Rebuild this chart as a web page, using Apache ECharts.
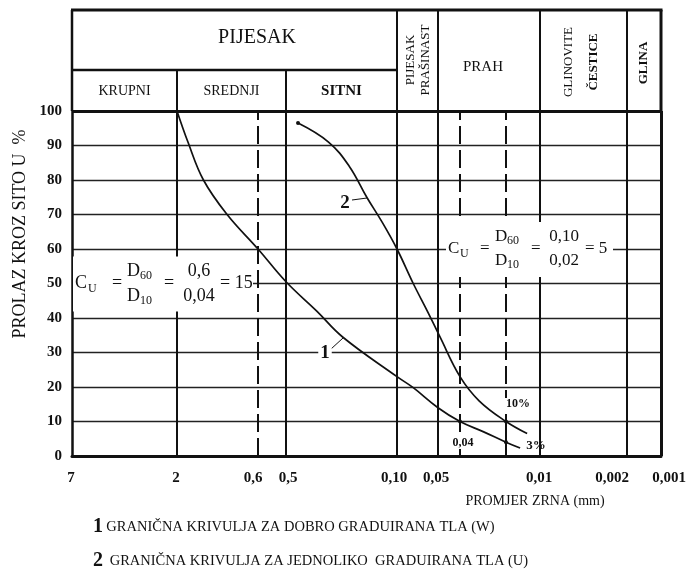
<!DOCTYPE html>
<html>
<head>
<meta charset="utf-8">
<script src="https://cdn.jsdelivr.net/npm/echarts@6/dist/echarts.min.js"></script>
<style>
html,body{margin:0;padding:0;background:#fff;}
#chart{width:691px;height:573px;}
</style>
</head>
<body>
<div id="chart"></div>
<script>
// =========================
// DATA
// =========================

// x scale of the chart: grain size (mm) -> position along the axis
const scaleSizes = [7, 2, 0.6, 0.5, 0.10, 0.05, 0.04, 0.02, 0.01, 0.002, 0.001];
const scalePos   = [0, 105, 186, 214, 325, 366, 388, 434, 468, 555, 602];

// tick labels under the x axis
const xTickLabels   = ["7", "2", "0,6", "0,5", "0,10", "0,05", "0,01", "0,002", "0,001"];
const xTickLabelPos = [-1, 104, 181, 216, 322, 364, 467, 540, 597];

// vertical lines
const solidSizes  = [2, 0.5, 0.10, 0.05, 0.01, 0.002];
const dashedSizes = [0.6, 0.04, 0.02];

// curve 1 (W)
const curve1Size = [2, 1.7, 1.35, 0.95, 0.6, 0.5, 0.32, 0.22, 0.10, 0.076, 0.05, 0.04, 0.028, 0.02, 0.015];
const curve1Pass = [100, 91, 80, 70, 60, 50.5, 42, 34.5, 23, 19.8, 14, 10, 7, 4, 2.3];

// curve 2 (U)
const curve2Size = [0.42, 0.27, 0.20, 0.155, 0.123, 0.10, 0.076, 0.059, 0.049, 0.04, 0.03, 0.02, 0.013];
const curve2Pass = [96.5, 91, 84, 75, 67.5, 60, 50, 41.5, 34.5, 23, 16, 10, 6.5];

const dots1 = [0.04, 0.02];
const dots2 = [0.42, 0.02];

const SERIF = "'Liberation Serif', 'Times New Roman', serif";


function sizeToPos(s){
    for(let i=0;i<scaleSizes.length-1;i++){
        const a=scaleSizes[i], b=scaleSizes[i+1];
        if(s<=a && s>=b){
            const t=Math.log(a/s)/Math.log(a/b);
            return scalePos[i]+t*(scalePos[i+1]-scalePos[i]);
        }
    }
    return s>scaleSizes[0] ? scalePos[0] : scalePos[scalePos.length-1];
}

function buildCurve(sizes, pass, dots){
    return sizes.map((s,i)=>{
        const item={value:[sizeToPos(s), pass[i]]};
        if(dots.includes(s)){
            item.symbol='circle';
            item.symbolSize=4;
        }
        return item;
    });
}


// =========================
// CHART
// =========================

const chart = echarts.init(document.getElementById("chart"));

const vLines = [];
solidSizes.forEach(s=>vLines.push({xAxis:sizeToPos(s)}));
dashedSizes.forEach(s=>vLines.push({xAxis:sizeToPos(s), lineStyle:{type:[18,6]}}));
vLines.push({xAxis:589, lineStyle:{width:3}});
vLines.push({yAxis:100, lineStyle:{width:3}});
vLines.push([{coord:[sizeToPos(0.02),3.5]},{coord:[sizeToPos(0.02),10]}]);

chart.setOption({
    animation:false,
    backgroundColor:"#fff",
    grid:[
        {left:72, right:30, top:111, bottom:117},
        {left:62, right:11, top:111, bottom:117}
    ],
    xAxis:[
        {
            type:"value", gridIndex:0, min:0, max:589,
            axisLine:{show:true, lineStyle:{color:"#111", width:3}},
            axisTick:{show:false}, axisLabel:{show:false}, splitLine:{show:false}
        },
        {
            type:"value", gridIndex:1, min:-10, max:608,
            axisLine:{show:false}, axisTick:{show:false}, splitLine:{show:false},
            axisLabel:{
                customValues:xTickLabelPos,
                margin:15,
                fontFamily:SERIF, fontWeight:"bold", fontSize:15, color:"#111",
                formatter:(v)=>{
                    const i=xTickLabelPos.findIndex(p=>Math.abs(p-v)<0.01);
                    return i>=0 ? xTickLabels[i] : "";
                }
            }
        }
    ],
    yAxis:[
        {
            type:"value", gridIndex:0, min:0, max:100, interval:10,
            axisLine:{show:true, lineStyle:{color:"#111", width:2.5}},
            axisTick:{show:false},
            axisLabel:{fontFamily:SERIF, fontWeight:"bold", fontSize:15, color:"#111", margin:10},
            splitLine:{lineStyle:{color:"#222", width:1.4}}
        },
        {type:"value", gridIndex:1, min:0, max:100, show:false}
    ],
    series:[
        {
            name:"1", type:"line", xAxisIndex:0, yAxisIndex:0,
            data:buildCurve(curve1Size, curve1Pass, dots1),
            smooth:0.4, showSymbol:true, symbol:"none",
            itemStyle:{color:"#111"},
            lineStyle:{color:"#111", width:1.7},
            markLine:{
                silent:true, symbol:"none", label:{show:false},
                lineStyle:{color:"#111", type:"solid", width:2},
                data:vLines
            }
        },
        {
            name:"2", type:"line", xAxisIndex:0, yAxisIndex:0,
            data:buildCurve(curve2Size, curve2Pass, dots2),
            smooth:0.4, showSymbol:true, symbol:"none",
            itemStyle:{color:"#111"},
            lineStyle:{color:"#111", width:1.7}
        }
    ]
});


// =========================
// HEADER, TEXTS, FORMULAS
// =========================

const px = (s)=>chart.convertToPixel({xAxisIndex:0}, sizeToPos(s));
const gy = (v)=>chart.convertToPixel({yAxisIndex:0}, v);

function gLine(x1,y1,x2,y2,w){
    return {type:"line", silent:true, z:20, shape:{x1,y1,x2,y2}, style:{stroke:"#111", lineWidth:w}};
}

function gText(str,x,y,font,opt){
    opt=opt||{};
    const st={text:str, font:font, fill:"#111", align:opt.align||"center", verticalAlign:"middle"};
    if(opt.bg){ st.backgroundColor="#fff"; st.padding=[0,2]; }
    return {type:"text", silent:true, z:30, x, y, rotation:opt.rot||0, style:st};
}

function formula(x0,y0,fs,L,num,den,res){
    const sub=Math.round(fs*0.68);
    const f=fs+"px "+SERIF, fsub=sub+"px "+SERIF;
    const ny=-Math.round(fs*0.68), dy=Math.round(fs*0.72);
    const dw=Math.round(fs*0.72);
    const t=(s,x,y,font,align)=>({type:"text", silent:true, z:31, x:x0+x, y:y0+y,
        style:{text:s, font, fill:"#111", align:align||"left", verticalAlign:"middle"}});
    return [
        {type:"rect", silent:true, z:29, shape:{x:x0-2, y:y0-27, width:L.w, height:55}, style:{fill:"#fff"}},
        t("C",0,0,f), t("U",L.u,5,fsub),
        t("=",L.e1,0,f),
        t("D",L.f1,ny,f), t("60",L.f1+dw,ny+4,fsub),
        gLine(x0+L.f1-1,y0,x0+L.f1+L.fw,y0,1.2),
        t("D",L.f1,dy,f), t("10",L.f1+dw,dy+4,fsub),
        t("=",L.e2,0,f),
        t(num,L.c2,ny,f,"center"),
        gLine(x0+L.c2-L.hw,y0,x0+L.c2+L.hw,y0,1.2),
        t(den,L.c2,dy,f,"center"),
        t("= "+res,L.r,0,f)
    ];
}

const hLeft=px(7), hRight=chart.convertToPixel({xAxisIndex:0},589);
const hTop=10, hMid=70, hBot=gy(100);
const UP=Math.PI/2;

const els=[];

// header frame
els.push(gLine(hLeft-1,hTop,hRight+1.5,hTop,3));
els.push(gLine(hLeft,hTop,hLeft,hBot,2.5));
els.push(gLine(hRight,hTop,hRight,hBot,3));
els.push(gLine(hLeft,hMid,px(0.10),hMid,2.5));
[2,0.5].forEach(s=>els.push(gLine(px(s),hMid,px(s),hBot,2)));
[0.10,0.05,0.01,0.002].forEach(s=>els.push(gLine(px(s),hTop,px(s),hBot,2)));

// header texts
els.push(gText("PIJESAK",257,38,"20px "+SERIF));
els.push(gText("KRUPNI",(hLeft+px(2))/2,91,"14px "+SERIF));
els.push(gText("SREDNJI",(px(2)+px(0.5))/2,91,"14px "+SERIF));
els.push(gText("SITNI",(px(0.5)+px(0.10))/2,91,"bold 15px "+SERIF));
els.push(gText("PIJESAK",px(0.10)+14,60,"13px "+SERIF,{rot:UP}));
els.push(gText("PRAŠINAST",px(0.10)+29,60,"13px "+SERIF,{rot:UP}));
els.push(gText("PRAH",(px(0.05)+px(0.01))/2-6,67,"15px "+SERIF));
els.push(gText("GLINOVITE",px(0.01)+29,62,"13px "+SERIF,{rot:UP}));
els.push(gText("ČESTICE",px(0.01)+54,62,"bold 13px "+SERIF,{rot:UP}));
els.push(gText("GLINA",(px(0.002)+hRight)/2,63,"bold 13px "+SERIF,{rot:UP}));

// axis titles
els.push(gText("PROLAZ KROZ SITO U  %",20,234,"18px "+SERIF,{rot:UP}));
els.push(gText("PROMJER ZRNA (mm)",535,501,"14px "+SERIF));

// curve labels
els.push(gText("2",345,203,"bold 19px "+SERIF));
els.push(gLine(352,200,367,198,1));
els.push(gText("1",325,353,"bold 19px "+SERIF,{bg:true}));
els.push(gLine(331,349,343,338,1));
els.push(gText("10%",518,404,"bold 12px "+SERIF,{bg:true}));
els.push(gText("3%",536,446,"bold 13px "+SERIF));
els.push(gText("0,04",463,443,"bold 12px "+SERIF,{bg:true}));

// formulas
formula(px(7)+3, gy(50), 18, {w:180, u:13, e1:37, f1:52, fw:34, e2:89, c2:124, hw:17, r:145}, "0,6", "0,04", "15")
    .forEach(e=>els.push(e));
formula(px(0.05)+10, gy(60), 17, {w:167, u:12, e1:32, f1:47, fw:33, e2:83, c2:116, hw:16, r:137}, "0,10", "0,02", "5")
    .forEach(e=>els.push(e));

// legend
els.push({type:"text", silent:true, z:30, x:93, y:527, style:{
    text:"{n|1} {t|GRANIČNA KRIVULJA ZA DOBRO GRADUIRANA TLA (W)}",
    align:"left", verticalAlign:"middle", fill:"#111",
    rich:{n:{font:"bold 20px "+SERIF, fill:"#111"}, t:{font:"14.5px "+SERIF, fill:"#111"}}
}});
els.push({type:"text", silent:true, z:30, x:93, y:561, style:{
    text:"{n|2}  {t|GRANIČNA KRIVULJA ZA JEDNOLIKO  GRADUIRANA TLA (U)}",
    align:"left", verticalAlign:"middle", fill:"#111",
    rich:{n:{font:"bold 20px "+SERIF, fill:"#111"}, t:{font:"14.5px "+SERIF, fill:"#111"}}
}});

chart.setOption({graphic:{elements:els}});
</script>
</body>
</html>
